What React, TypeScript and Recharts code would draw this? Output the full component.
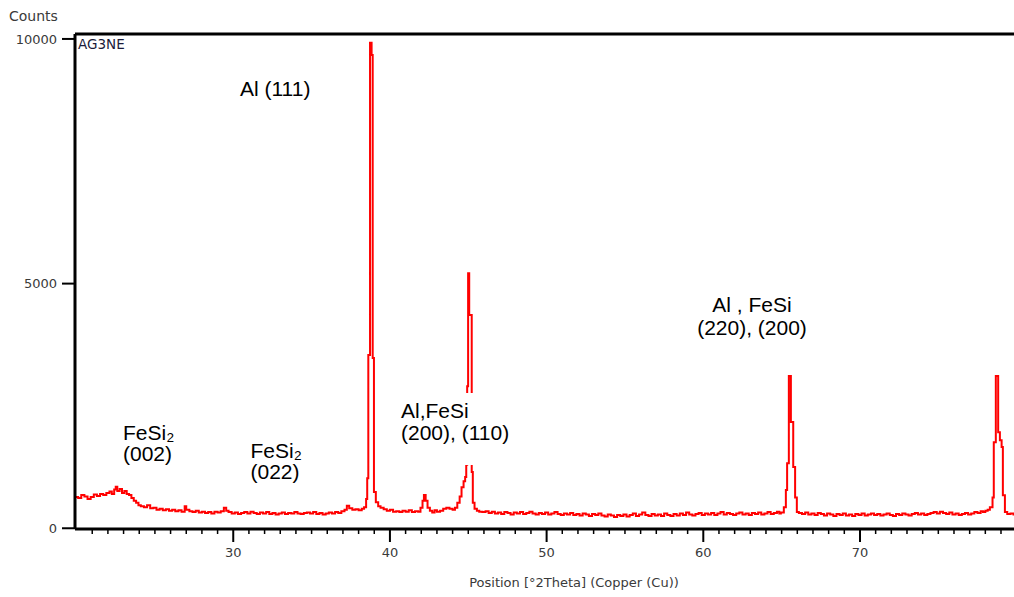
import { LineChart, Line, XAxis, YAxis, ReferenceLine } from 'recharts';

// XRD scan: 2theta (deg) and intensity (counts)
const twoTheta = [
  19.9, 20.1, 20.3, 20.5, 20.7, 20.9, 21.1, 21.3, 21.5, 21.7,
  21.9, 22.1, 22.25, 22.4, 22.5, 22.6, 22.75, 22.9, 23.05, 23.2,
  23.35, 23.5, 23.65, 23.8, 23.95, 24.1, 24.3, 24.5, 24.7, 24.9,
  25.1, 25.3, 25.5, 25.7, 25.9, 26.1, 26.3, 26.5, 26.7, 26.9,
  27.0, 27.2, 27.4, 27.6, 27.8, 28.0, 28.2, 28.4, 28.6, 28.8,
  29.0, 29.2, 29.4, 29.55, 29.7, 29.9, 30.1, 30.3, 30.5, 30.7,
  30.9, 31.1, 31.3, 31.5, 31.7, 31.9, 32.1, 32.3, 32.5, 32.7,
  32.9, 33.1, 33.3, 33.5, 33.7, 33.9, 34.1, 34.3, 34.5, 34.7,
  34.9, 35.1, 35.3, 35.5, 35.7, 35.9, 36.1, 36.3, 36.5, 36.7,
  36.9, 37.1, 37.25, 37.4, 37.6, 37.8, 38.0, 38.2, 38.35, 38.48,
  38.55, 38.62, 38.73, 38.83, 38.9, 38.98, 39.1, 39.25, 39.4, 39.6,
  39.8, 40.0, 40.2, 40.4, 40.6, 40.8, 41.0, 41.2, 41.4, 41.6,
  41.8, 41.95, 42.08, 42.17, 42.28, 42.4, 42.55, 42.7, 42.85, 43.0,
  43.2, 43.4, 43.6, 43.8, 44.0, 44.15, 44.3, 44.45, 44.57, 44.7,
  44.8, 44.87, 44.93, 44.99, 45.06, 45.15, 45.22, 45.29, 45.4, 45.55,
  45.7, 45.9, 46.1, 46.3, 46.5, 46.7, 46.9, 47.1, 47.3, 47.5,
  47.7, 47.9, 48.1, 48.3, 48.5, 48.7, 48.9, 49.1, 49.3, 49.5,
  49.7, 49.9, 50.1, 50.3, 50.5, 50.7, 50.9, 51.1, 51.3, 51.5,
  51.7, 51.9, 52.1, 52.3, 52.5, 52.7, 52.9, 53.1, 53.3, 53.5,
  53.7, 53.9, 54.1, 54.3, 54.5, 54.7, 54.9, 55.1, 55.3, 55.5,
  55.7, 55.9, 56.1, 56.3, 56.5, 56.7, 56.9, 57.1, 57.3, 57.5,
  57.7, 57.9, 58.1, 58.3, 58.5, 58.7, 58.9, 59.1, 59.3, 59.5,
  59.7, 59.9, 60.1, 60.3, 60.5, 60.7, 60.9, 61.1, 61.3, 61.5,
  61.7, 61.9, 62.1, 62.3, 62.5, 62.7, 62.9, 63.1, 63.3, 63.5,
  63.7, 63.9, 64.1, 64.3, 64.5, 64.7, 64.85, 64.95, 65.14, 65.27,
  65.35, 65.46, 65.59, 65.74, 65.86, 65.97, 66.1, 66.3, 66.5, 66.7,
  66.9, 67.1, 67.3, 67.5, 67.7, 67.9, 68.1, 68.3, 68.5, 68.7,
  68.9, 69.1, 69.3, 69.5, 69.7, 69.9, 70.1, 70.3, 70.5, 70.7,
  70.9, 71.1, 71.3, 71.5, 71.7, 71.9, 72.1, 72.3, 72.5, 72.7,
  72.9, 73.1, 73.3, 73.5, 73.7, 73.9, 74.1, 74.3, 74.5, 74.7,
  74.9, 75.1, 75.3, 75.5, 75.7, 75.9, 76.1, 76.3, 76.5, 76.7,
  76.9, 77.1, 77.3, 77.5, 77.7, 77.85, 78.0, 78.15, 78.29, 78.46,
  78.54, 78.67, 78.82, 78.93, 79.04, 79.12, 79.25, 79.4, 79.6, 79.8,
  80.0, 80.3,
];

const counts = [
  640, 620, 680, 650, 600, 640, 690, 660, 700, 680,
  720, 750, 700, 790, 850, 760, 800, 720, 760, 700,
  680, 620, 560, 520, 470, 450, 430, 470, 410, 420,
  380, 400, 370, 390, 360, 380, 350, 370, 340, 450,
  380, 350, 330, 360, 320, 340, 310, 330, 300, 340,
  320, 350, 420, 360, 330, 300, 320, 290, 310, 330,
  300, 340, 310, 290, 320, 300, 330, 290, 310, 280,
  300, 320, 290, 310, 300, 330, 300, 290, 310, 320,
  300, 330, 290, 310, 280, 300, 320, 300, 330, 310,
  350, 380, 460, 410, 380, 390, 370, 400, 430, 600,
  1020, 3540, 9920, 9670, 3480, 740, 530, 450, 420, 390,
  360, 380, 340, 350, 330, 360, 340, 370, 330, 350,
  340, 420, 560, 680, 560, 420, 360, 320, 370, 340,
  360, 400, 420, 400, 380, 420, 520, 650, 840, 960,
  1050, 1300, 2900, 5210, 4360, 4360, 1150, 520, 400, 360,
  340, 330, 350, 310, 340, 300, 320, 290, 330, 310,
  280, 320, 300, 330, 290, 310, 340, 300, 280, 310,
  290, 320, 280, 300, 330, 290, 270, 300, 280, 310,
  270, 290, 260, 300, 280, 250, 290, 270, 300, 260,
  240, 280, 260, 230, 270, 250, 280, 240, 270, 300,
  250, 280, 320, 270, 250, 290, 260, 280, 250, 300,
  270, 250, 290, 260, 300, 270, 320, 280, 260, 290,
  310, 270, 300, 280, 310, 270, 300, 330, 280, 310,
  290, 270, 300, 320, 280, 300, 270, 310, 290, 320,
  280, 300, 330, 290, 310, 340, 300, 320, 430, 780,
  1330, 3110, 2170, 1250, 630, 330, 310, 290, 320, 280,
  300, 270, 310, 290, 260, 300, 280, 250, 290, 270,
  300, 260, 280, 250, 290, 270, 300, 260, 280, 300,
  270, 290, 260, 280, 300, 270, 250, 290, 270, 300,
  280, 260, 290, 310, 280, 300, 270, 290, 310, 330,
  300, 340, 310, 290, 320, 280, 300, 270, 290, 310,
  280, 300, 330, 310, 350, 330, 360, 380, 430, 630,
  1760, 3110, 1960, 1800, 1660, 675, 330, 290, 300, 280,
  300, 290,
];

// every whole degree gets a tick; only these get a label
const thetaTicks = Array.from({ length: 64 }, (_, i) => 21 + i);
const thetaLabels = [30, 40, 50, 60, 70];
const countTicks = [0, 5000, 10000];

const data = twoTheta.map((t, i) => ({ theta: t, counts: counts[i] }));

const X_DOMAIN: [number, number] = [19.9, 85];
const Y_DOMAIN: [number, number] = [-15, 10101];

const axisFont = { fill: '#3a3a3a', fontSize: 13, fontFamily: '"DejaVu Sans", sans-serif' };
const noteStyle: React.CSSProperties = {
  position: 'absolute',
  fontFamily: '"Liberation Sans", Arial, sans-serif',
  fontSize: 21,
  color: '#000',
  whiteSpace: 'nowrap',
};

const ThetaTick = (props: any) => {
  const { x, y, payload } = props;
  const major = payload.value % 10 === 0;
  return (
    <g>
      <line
        x1={x}
        x2={x}
        y1={y}
        y2={y + (major ? 13 : 5)}
        stroke="#000"
        strokeWidth={major ? 2 : 1.5}
      />
      {thetaLabels.includes(payload.value) && (
        <text x={x} y={y + 19} dy="0.71em" textAnchor="middle" {...axisFont}>
          {payload.value}
        </text>
      )}
    </g>
  );
};

export default function App() {
  return (
    <div
      style={{
        position: 'absolute',
        left: 0,
        top: 0,
        width: 1014,
        height: 597,
        overflow: 'hidden',
        background: '#fff',
      }}
    >
      <LineChart width={1100} height={597} data={data} margin={{ top: 34, right: 5, bottom: 38, left: 0 }}>
        <XAxis
          xAxisId="main"
          dataKey="theta"
          type="number"
          domain={X_DOMAIN}
          allowDataOverflow
          ticks={thetaTicks}
          interval={0}
          height={30}
          axisLine={{ stroke: '#000', strokeWidth: 3 }}
          tickLine={false}
          tickSize={0}
          tickMargin={0}
          tick={<ThetaTick />}
        />
        <YAxis
          yAxisId="counts"
          type="number"
          domain={Y_DOMAIN}
          allowDataOverflow
          ticks={countTicks}
          interval={0}
          width={75}
          axisLine={{ stroke: '#000', strokeWidth: 3 }}
          tickLine={{ stroke: '#000', strokeWidth: 2 }}
          tickSize={13}
          tickMargin={5}
          tick={axisFont}
        />
        {/* top edge of the frame */}
        <ReferenceLine xAxisId="main" yAxisId="counts" y={Y_DOMAIN[1]} stroke="#000" strokeWidth={3} />
        <Line
          xAxisId="main"
          yAxisId="counts"
          type="stepAfter"
          dataKey="counts"
          stroke="#ff0000"
          strokeWidth={2}
          dot={false}
          activeDot={false}
          isAnimationActive={false}
        />
      </LineChart>

      <div style={{ position: 'absolute', left: 9, top: 9, fontFamily: '"DejaVu Sans", sans-serif', fontSize: 14, lineHeight: 1, color: '#3a3a3a' }}>
        Counts
      </div>
      <div style={{ position: 'absolute', left: 78, top: 38, fontFamily: '"DejaVu Sans", sans-serif', fontSize: 13.5, lineHeight: 1, color: '#1b1b3a' }}>
        AG3NE
      </div>
      <div
        style={{
          position: 'absolute',
          left: 374,
          width: 400,
          top: 576,
          textAlign: 'center',
          fontFamily: '"DejaVu Sans", sans-serif',
          fontSize: 13,
          lineHeight: 1,
          color: '#3a3a3a',
          whiteSpace: 'nowrap',
        }}
      >
        Position [°2Theta] (Copper (Cu))
      </div>

      <div style={{ ...noteStyle, left: 240, top: 77, lineHeight: '23px' }}>Al (111)</div>
      <div style={{ ...noteStyle, left: 123, top: 422, lineHeight: '21px' }}>
        FeSi₂
        <br />
        (002)
      </div>
      <div style={{ ...noteStyle, left: 250.5, top: 440, lineHeight: '21px' }}>
        FeSi₂
        <br />
        (022)
      </div>
      <div
        style={{
          ...noteStyle,
          left: 401,
          top: 393,
          lineHeight: '22px',
          paddingTop: 7,
          paddingBottom: 21,
          paddingRight: 4,
          background: '#fff',
        }}
      >
        Al,FeSi
        <br />
        (200), (110)
      </div>
      <div style={{ ...noteStyle, left: 692, width: 120, top: 293, lineHeight: '23px', textAlign: 'center' }}>
        Al , FeSi
        <br />
        (220), (200)
      </div>
    </div>
  );
}
